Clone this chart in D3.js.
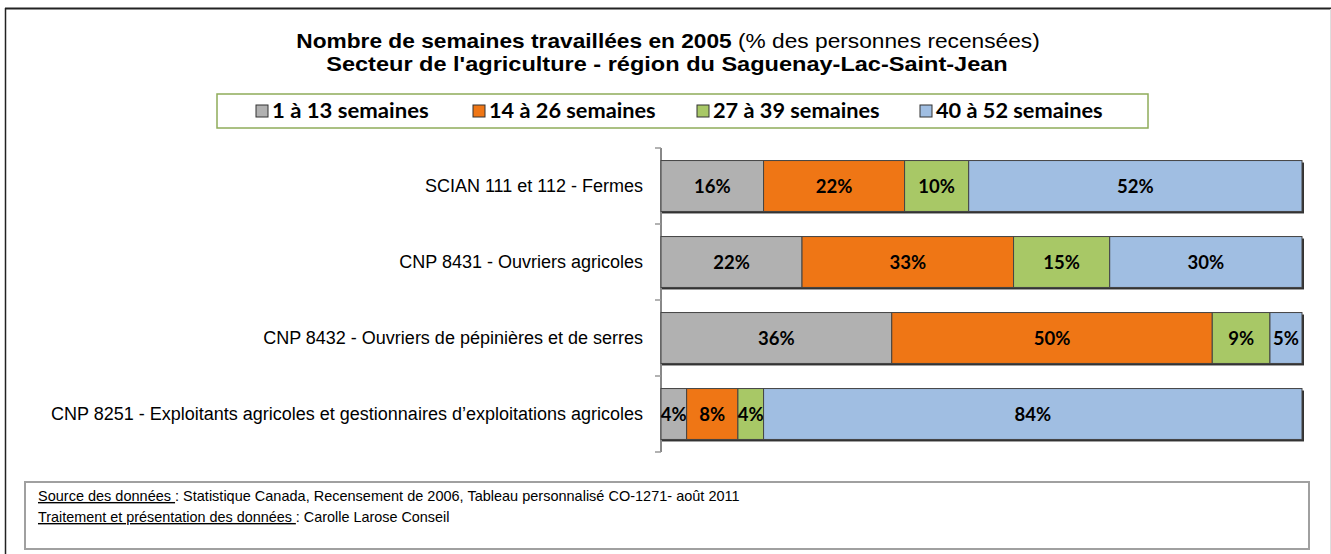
<!DOCTYPE html>
<html>
<head>
<meta charset="utf-8">
<script src="https://cdn.jsdelivr.net/npm/d3@7"></script>
<style>
  body { margin: 0; background: #fff; }
  svg { display: block; }
</style>
</head>
<body>
<div id="chart"></div>
<script>
var categories = [
  "SCIAN 111 et 112 - Fermes",
  "CNP 8431 - Ouvriers agricoles",
  "CNP 8432 - Ouvriers de pépinières et de serres",
  "CNP 8251 - Exploitants agricoles et gestionnaires d\u2019exploitations agricoles"
];
var seriesNames = ["1 à 13 semaines", "14 à 26 semaines", "27 à 39 semaines", "40 à 52 semaines"];
var s1to13 = [16, 22, 36, 4];
var s14to26 = [22, 33, 50, 8];
var s27to39 = [10, 15, 9, 4];
var s40to52 = [52, 30, 5, 84];
var colors = ["#b1b1b1", "#ef7615", "#a8c866", "#a0bee2"];

var W = 1331, H = 554;
var narrow = "'Liberation Sans',Arial,sans-serif";
var calib = "Lato,'Open Sans',sans-serif";

var svg = d3.select("#chart").append("svg")
  .attr("width", W).attr("height", H);

// stretch/squeeze a text horizontally so it spans the wanted width
function fitWidth(sel, cx, target) {
  var w = sel.node().getBBox().width;
  var k = target / w;
  sel.attr("transform", "translate(" + cx + ",0) scale(" + k + ",1) translate(" + (-cx) + ",0)");
}

// outer frame
svg.append("line").attr("x1", 5).attr("x2", 1331).attr("y1", 8.5).attr("y2", 8.5)
  .attr("stroke", "#222").attr("stroke-width", 2);
svg.append("line").attr("x1", 5.5).attr("x2", 5.5).attr("y1", 8).attr("y2", H)
  .attr("stroke", "#222").attr("stroke-width", 1.5);
svg.append("line").attr("x1", 1330.5).attr("x2", 1330.5).attr("y1", 9).attr("y2", H)
  .attr("stroke", "#ddd").attr("stroke-width", 1);

// title
var t1 = svg.append("text").attr("x", 668).attr("y", 48)
  .attr("text-anchor", "middle").attr("font-family", narrow).attr("font-size", 20)
  .style("fill", "#000");
t1.append("tspan").attr("font-weight", "bold").text("Nombre de semaines travaillées  en 2005");
t1.append("tspan").text(" (% des personnes  recensées)");
fitWidth(t1, 668, 744);
var t2 = svg.append("text").attr("x", 667).attr("y", 71)
  .attr("text-anchor", "middle").attr("font-family", narrow).attr("font-size", 20)
  .attr("font-weight", "bold").style("fill", "#000")
  .text("Secteur de l'agriculture  - région du Saguenay-Lac-Saint-Jean");
fitWidth(t2, 667, 682);

// legend
svg.append("rect").attr("x", 217).attr("y", 94).attr("width", 931).attr("height", 34)
  .attr("fill", "#fff").attr("stroke", "#8fac5a").attr("stroke-width", 1.5);
var legX = [256, 473, 697, 920];
var leg = svg.selectAll(".leg").data(seriesNames).enter().append("g")
  .attr("class", "leg")
  .attr("transform", function(d, i) { return "translate(" + legX[i] + ",111)"; });
leg.append("rect").attr("x", 0).attr("y", -6).attr("width", 12).attr("height", 12)
  .attr("fill", function(d, i) { return colors[i]; })
  .attr("stroke", "#333").attr("stroke-width", 1);
leg.append("text").attr("x", 16).attr("y", 7)
  .attr("font-family", calib).attr("font-weight", "bold").attr("font-size", 20)
  .style("fill", "#000").text(function(d) { return d; })
  .each(function() { fitWidth(d3.select(this), 16, 157 + (this.textContent.length - 15) * 10); });

// scales
var x = d3.scaleLinear().domain([0, 100]).range([661, 1302]);
var y = d3.scaleBand().domain(categories).range([148, 452])
  .paddingInner(0.33).paddingOuter(0.165);

var rows = categories.map(function(c, i) {
  return { cat: c, s1: s1to13[i], s2: s14to26[i], s3: s27to39[i], s4: s40to52[i] };
});
var stack = d3.stack().keys(["s1", "s2", "s3", "s4"])(rows);

// axis line + ticks between categories
svg.append("line").attr("x1", 661).attr("x2", 661).attr("y1", 148).attr("y2", 452)
  .attr("stroke", "#888").attr("stroke-width", 2);
var tickYs = d3.range(categories.length + 1).map(function(i) { return 148 + i * y.step(); });
svg.selectAll(".tk").data(tickYs).enter().append("line")
  .attr("x1", 655).attr("x2", 661)
  .attr("y1", function(d) { return d; }).attr("y2", function(d) { return d; })
  .attr("stroke", "#999").attr("stroke-width", 1.5);

// category labels
svg.selectAll(".cat").data(categories).enter().append("text")
  .attr("x", 643).attr("y", function(d) { return y(d) + y.bandwidth() / 2 + 6; })
  .attr("text-anchor", "end").attr("font-family", narrow).attr("font-size", 18)
  .style("fill", "#000").text(function(d) { return d; });

// bar shadows
svg.selectAll(".shadow").data(categories).enter().append("rect")
  .attr("x", x(0) + 1).attr("y", function(d) { return y(d) + 2; })
  .attr("width", x(100) - x(0) + 1).attr("height", y.bandwidth())
  .attr("fill", "#333");

// bar segments
var layers = svg.selectAll(".layer").data(stack).enter().append("g")
  .attr("fill", function(d, i) { return colors[i]; });
layers.selectAll("rect").data(function(d) { return d; }).enter().append("rect")
  .attr("x", function(d) { return x(d[0]); })
  .attr("y", function(d) { return y(d.data.cat); })
  .attr("width", function(d) { return x(d[1]) - x(d[0]); })
  .attr("height", y.bandwidth())
  .attr("stroke", "#444").attr("stroke-width", 1);

// value labels
layers.selectAll("text").data(function(d) { return d; }).enter().append("text")
  .attr("x", function(d) { return (x(d[0]) + x(d[1])) / 2; })
  .attr("y", function(d) { return y(d.data.cat) + y.bandwidth() / 2 + 7; })
  .attr("text-anchor", "middle").attr("font-family", calib).attr("font-weight", "bold")
  .attr("font-size", 18.5).style("fill", "#000")
  .text(function(d) { return (d[1] - d[0]) + "%"; });

// source box
svg.append("rect").attr("x", 25).attr("y", 482).attr("width", 1284).attr("height", 67)
  .attr("fill", "#fff").attr("stroke", "#a0a0a0").attr("stroke-width", 2);
var src1 = svg.append("text").attr("x", 38).attr("y", 501)
  .attr("font-family", narrow).attr("font-size", 14).style("fill", "#000");
src1.append("tspan").attr("text-decoration", "underline").text("Source des données ");
src1.append("tspan").text(": Statistique Canada,  Recensement de 2006, Tableau personnalisé CO-1271- août  2011");
fitWidth(src1, 38, 702);
var src2 = svg.append("text").attr("x", 38).attr("y", 522)
  .attr("font-family", narrow).attr("font-size", 14).style("fill", "#000");
src2.append("tspan").attr("text-decoration", "underline").text("Traitement et présentation des  données ");
src2.append("tspan").text(": Carolle Larose Conseil");
fitWidth(src2, 38, 412);
</script>
</body>
</html>
